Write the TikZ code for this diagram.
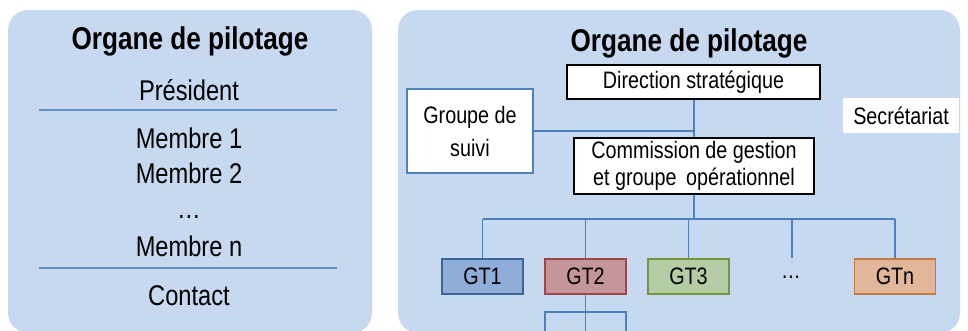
\documentclass[tikz,border=0pt]{standalone}
\usepackage{fontspec}
\setmainfont{Liberation Sans}[FakeStretch=0.83]
\definecolor{panelc}{HTML}{C6D9F0}
\definecolor{connc}{HTML}{4F81BD}
\definecolor{gtAf}{HTML}{8EADD8}\definecolor{gtAd}{HTML}{3F6496}
\definecolor{gtBf}{HTML}{C4969C}\definecolor{gtBd}{HTML}{A0464A}
\definecolor{gtCf}{HTML}{B3CCA3}\definecolor{gtCd}{HTML}{77933C}
\definecolor{gtDf}{HTML}{E2B698}\definecolor{gtDd}{HTML}{C27A3E}
\begin{document}
\begin{tikzpicture}[x=1pt,y=-1pt,
  panel/.style={fill=panelc,draw=none,rounded corners=20pt},
  ttl/.style={anchor=base,inner sep=0pt,font=\fontsize{31.5}{36}\selectfont\bfseries},
  ltxt/.style={anchor=base,inner sep=0pt,font=\fontsize{28.5}{33}\selectfont},
  rtxt/.style={font=\fontsize{23.8}{27}\selectfont},
  box/.style={rtxt,draw=black,fill=white,line width=1.3pt,inner sep=0pt,align=center},
  gtbox/.style={rtxt,inner sep=0pt,line width=1.4pt,minimum width=81pt,minimum height=35pt},
  conn/.style={draw=connc,line width=1.4pt},
  sep/.style={draw=connc!90!white,line width=1.2pt}]
\useasboundingbox (0,0) rectangle (968,331);
\begin{scope}
\clip (0,0) rectangle (968,331);
\fill[panel] (8,10) rectangle (372,333);
\fill[panel] (398,10) rectangle (960,333);
\end{scope}
% left panel
\node[ttl] (ltitle) at (190,50) {Organe de pilotage};
\node[ltxt] (pres) at (189,101) {Président};
\coordinate (la1) at (39,110); \coordinate (lb1) at (337,110);
\draw[sep] (la1) -- (lb1);
\node[ltxt] (m1) at (189,149) {Membre 1};
\node[ltxt] (m2) at (189,183) {Membre 2};
\node[ltxt] (mdots) at (189,218) {…};
\node[ltxt] (mn) at (189,256) {Membre n};
\coordinate (la2) at (39,268); \coordinate (lb2) at (337,268);
\draw[sep] (la2) -- (lb2);
\node[ltxt] (contact) at (189,305) {Contact};
% right panel
\node[ttl] (rtitle) at (689,52) {Organe de pilotage};
\node[box,minimum width=253pt,minimum height=34pt] (dir) at (693.5,82) {Direction stratégique};
\node[box,draw=connc,minimum width=126pt,minimum height=84pt,font=\fontsize{23.8}{33}\selectfont] (grp) at (470,131) {Groupe de\\suivi};
\node[rtxt,fill=white,inner sep=0pt,minimum width=116pt,minimum height=35pt] (sec) at (901,115.5) {Secrétariat};
\node[box,minimum width=240pt,minimum height=56pt,font=\fontsize{23.8}{27}\selectfont] (com) at (694,166) {Commission de gestion\\et groupe\,\ opérationnel};
\node[gtbox,fill=gtAf,draw=gtAd] (gt1) at (482.5,276.5) {GT1};
\node[gtbox,fill=gtBf,draw=gtBd] (gt2) at (585.5,276.5) {GT2};
\node[gtbox,fill=gtCf,draw=gtCd] (gt3) at (688.5,276.5) {GT3};
\node[rtxt,inner sep=0pt] (gtdots) at (791,277) {…};
\node[gtbox,fill=gtDf,draw=gtDd] (gtn) at (895,276.5) {GTn};
% connectors
\draw[conn] (dir.south -| com.north) -- (com.north);
\draw[conn] (grp.east) -- (grp.east -| com.north);
\coordinate (bus) at (694,219);
\draw[conn] (com.south) -- (com.south |- bus);
\draw[conn] (gt1.north |- bus) -- (gtn.north |- bus);
\draw[conn] (gt1.north) -- (gt1.north |- bus);
\draw[conn] (gt2.north) -- (gt2.north |- bus);
\draw[conn] (gt3.north) -- (gt3.north |- bus);
\draw[conn] (gtn.north) -- (gtn.north |- bus);
\coordinate (dtop) at (792,258);
\draw[conn] (dtop) -- (dtop |- bus);
\coordinate (sub) at (585.5,312);
\coordinate (s1) at (545,331); \coordinate (s2) at (585.5,331); \coordinate (s3) at (626,331);
\draw[conn] (gt2.south) -- (s2);
\draw[conn] (s1) -- (s1 |- sub) -- (s3 |- sub) -- (s3);
\end{tikzpicture}
\end{document}
